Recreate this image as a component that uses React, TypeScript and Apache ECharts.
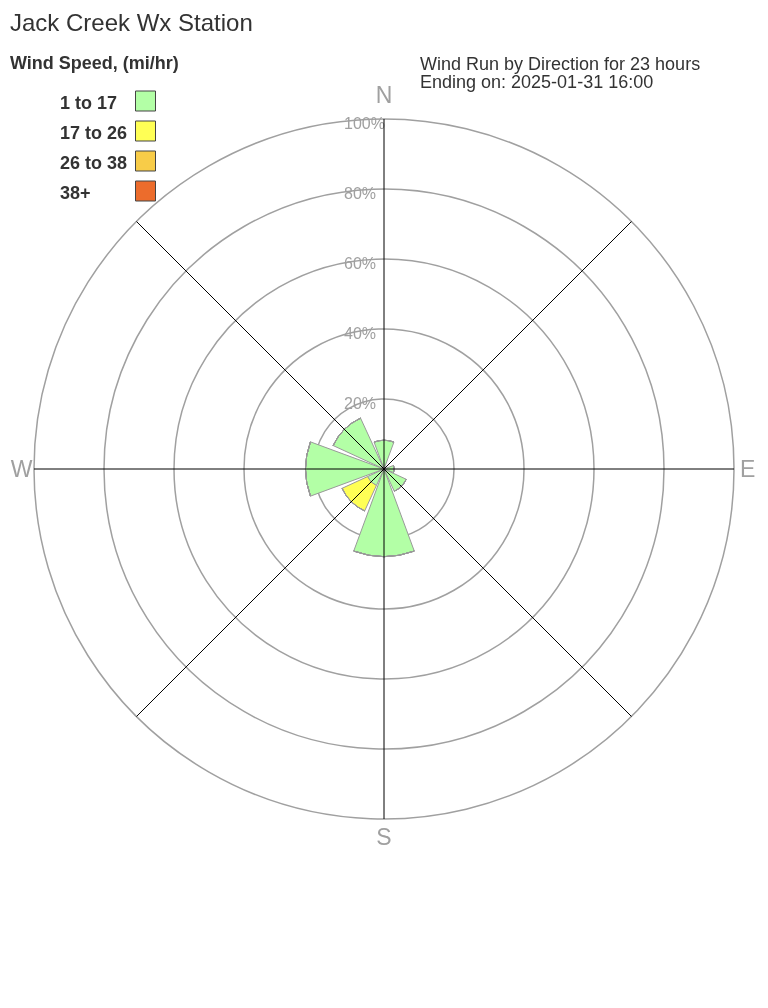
import React, { useEffect, useRef } from 'react';
import * as echarts from 'echarts';

const directions = ['N', 'NE', 'E', 'SE', 'S', 'SW', 'W', 'NW'];
const speedBins = ['1 to 17', '17 to 26', '26 to 38', '38+'];
const binColors = ['#b3ffa6', '#ffff55', '#f8cc48', '#ec6c2c'];
const run1to17 = [8.2, 0, 2.9, 7.0, 25.0, 5.2, 22.4, 16.0];
const run17to26 = [0, 0, 0, 0, 0, 8.0, 0, 0];
const run26to38 = [0, 0, 0, 0, 0, 0, 0, 0];
const run38plus = [0, 0, 0, 0, 0, 0, 0, 0];
const compassLabels: Record<number, string> = { 0: 'N', 90: 'E', 180: 'S', 270: 'W' };
const titleText = 'Jack Creek Wx Station';
const legendTitle = 'Wind Speed, (mi/hr)';
const infoLines = ['Wind Run by Direction for 23 hours', 'Ending on: 2025-01-31 16:00'];

const FONT = '"Liberation Sans", Arial, Helvetica, sans-serif';

export default function App() {
  const ref = useRef<HTMLDivElement>(null);
  useEffect(() => {
    if (!ref.current) return;
    const chart = echarts.init(ref.current, undefined, { renderer: 'svg' });
    const seriesData = [run1to17, run17to26, run26to38, run38plus];
    const center = [384, 469];
    const radius = 350;

    const legendGraphics: any[] = [];
    speedBins.forEach((name, i) => {
      legendGraphics.push({
        type: 'text',
        x: 60,
        y: 103 + 30 * i,
        style: { text: name, fontSize: 18, fontWeight: 'bold', fontFamily: FONT, fill: '#333', align: 'left', verticalAlign: 'middle' },
      });
      legendGraphics.push({
        type: 'rect',
        shape: { x: 135.5, y: 91 + 30 * i, width: 20, height: 20 },
        style: { fill: binColors[i], stroke: '#444', lineWidth: 1 },
      });
    });

    chart.setOption({
      animation: false,
      textStyle: { fontFamily: FONT },
      polar: [
        { center, radius },
        { center, radius },
      ],
      angleAxis: [
        {
          polarIndex: 0,
          type: 'category',
          data: directions,
          startAngle: 112.5,
          clockwise: true,
          boundaryGap: true,
          z: 0,
          axisLine: { show: false },
          axisTick: { show: false },
          axisLabel: { show: false },
          splitLine: { show: false },
        },
        {
          polarIndex: 1,
          type: 'value',
          min: 0,
          max: 360,
          interval: 45,
          startAngle: 90,
          clockwise: true,
          z: 5,
          axisLine: { show: false },
          axisTick: { show: false },
          splitLine: { show: true, lineStyle: { color: '#000', width: 1 } },
          axisLabel: {
            formatter: (v: number) => {
              const l = compassLabels[v];
              return l ? `{${l}|${l}}` : '';
            },
            fontSize: 23,
            color: '#a0a0a0',
            margin: 1.5,
            fontFamily: FONT,
            rich: {
              N: { fontSize: 23, color: '#a0a0a0', fontFamily: FONT, padding: [0, 0, 11, 0] },
              E: { fontSize: 23, color: '#a0a0a0', fontFamily: FONT, padding: [0, 0, 0, 4.5] },
              S: { fontSize: 23, color: '#a0a0a0', fontFamily: FONT, padding: [5, 0, 0, 0] },
              W: { fontSize: 23, color: '#a0a0a0', fontFamily: FONT },
            },
          },
        },
      ],
      radiusAxis: [
        {
          polarIndex: 0,
          type: 'value',
          min: 0,
          max: 100,
          show: false,
        },
        {
          polarIndex: 1,
          type: 'value',
          min: 0,
          max: 100,
          interval: 20,
          z: 1,
          axisLine: { show: false },
          axisTick: { show: false },
          splitLine: { show: true, lineStyle: { color: '#a0a0a0', width: 1.5 } },
          axisLabel: {
            formatter: (v: number) => (v === 0 ? '' : v + '%'),
            align: 'left',
            verticalAlign: 'top',
            lineHeight: 8,
            margin: 40,
            fontSize: 16,
            color: '#a0a0a0',
            fontFamily: FONT,
          },
        },
      ],
      series: speedBins.map((name, i) => ({
        type: 'bar',
        name,
        coordinateSystem: 'polar',
        polarIndex: 0,
        stack: 'wind',
        data: seriesData[i],
        barCategoryGap: '10%',
        z: 2,
        silent: true,
        itemStyle: { color: binColors[i], borderColor: '#999', borderWidth: 1 },
      })),
      graphic: [
        {
          type: 'text',
          x: 10,
          y: 22,
          style: { text: titleText, fontSize: 24, fontFamily: FONT, fill: '#333', align: 'left', verticalAlign: 'middle' },
        },
        {
          type: 'text',
          x: 10,
          y: 63,
          style: { text: legendTitle, fontSize: 18, fontWeight: 'bold', fontFamily: FONT, fill: '#333', align: 'left', verticalAlign: 'middle' },
        },
        ...infoLines.map((t, i) => ({
          type: 'text',
          x: 420,
          y: 63.5 + 18 * i,
          style: { text: t, fontSize: 18, fontFamily: FONT, fill: '#333', align: 'left', verticalAlign: 'middle' },
        })),
        ...legendGraphics,
      ],
    });
    return () => chart.dispose();
  }, []);
  return <div ref={ref} style={{ position: 'fixed', left: 0, top: 0, width: 768, height: 1008 }} />;
}
